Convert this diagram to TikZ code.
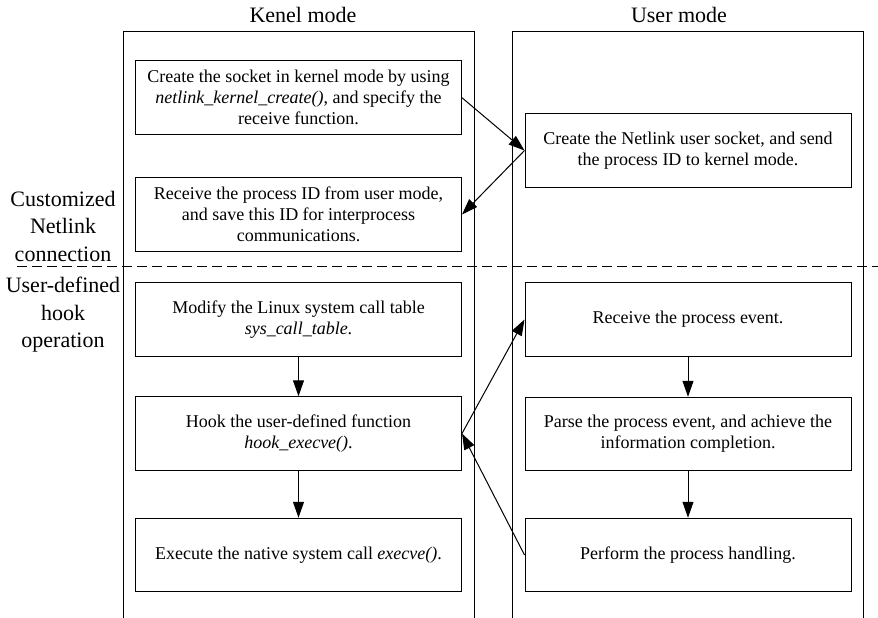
\documentclass[tikz,border=0pt]{standalone}
\usepackage{fontspec}
\setmainfont{Liberation Serif}
\usepackage{tikz}
\usetikzlibrary{arrows.meta}

\begin{document}
\begin{tikzpicture}
	[x=1pt,y=-1pt,line width=1pt,>={Triangle[length=16pt,width=11pt]},
	 every node/.style={font=\fontsize{18}{21}\selectfont,align=center,inner sep=0pt},
	 stepbox/.style={draw,minimum width=326pt,minimum height=73.5pt},
	 head/.style={font=\fontsize{22}{27.5}\selectfont}]
	\useasboundingbox (0,0) rectangle (878,618);
	% the two lanes, open at the bottom
	\draw (123,618) -- (123,32) -- (474,32) -- (474,618);
	\draw (512,618) -- (512,32) -- (863,32) -- (863,618);
	\node[head] (kmode) at (303,15) {Kenel mode};
	\node[head] (umode) at (679,15) {User mode};
	\node[head] (netlink) at (63,226) {Customized\\Netlink\\connection};
	\node[head] (hook) at (63,315) {User-defined\\hook\\operation};
	\draw[dash pattern=on 10pt off 5pt] (17,266) -- (878,266);
	% kernel side
	\node[stepbox] (k1) at (298.5,97.75) {Create the socket in kernel mode by using\\\textit{netlink\_kernel\_create()}, and specify the\\receive function.};
	\node[stepbox] (k2) at (298.5,214.5) {Receive the process ID from user mode,\\and save this ID for interprocess\\communications.};
	\node[stepbox] (k3) at (298.5,319.5) {Modify the Linux system call table\\\textit{sys\_call\_table}.};
	\node[stepbox] (k4) at (298.5,433.5) {Hook the user-defined function\\\textit{hook\_execve()}.};
	\node[stepbox] (k5) at (298.5,555) {Execute the native system call \textit{execve()}.};
	% user side
	\node[stepbox] (u1) at (688,150.5) {Create the Netlink user socket, and send\\the process ID to kernel mode.};
	\node[stepbox] (u2) at (688,319.5) {Receive the process event.};
	\node[stepbox] (u3) at (688,434) {Parse the process event, and achieve the\\information completion.};
	\node[stepbox] (u4) at (688,555) {Perform the process handling.};
	\foreach \from/\to in {k3/k4,k4/k5,u2/u3,u3/u4}
		\draw[->] (\from.south) -- (\to.north);
	\foreach \from/\to in {k1/u1,k4/u2}
		\draw[->] (\from.east) -- (\to.west);
	\foreach \from/\to in {u1/k2,u4/k4}
		\draw[->] (\from.west) -- (\to.east);
\end{tikzpicture}
\end{document}
